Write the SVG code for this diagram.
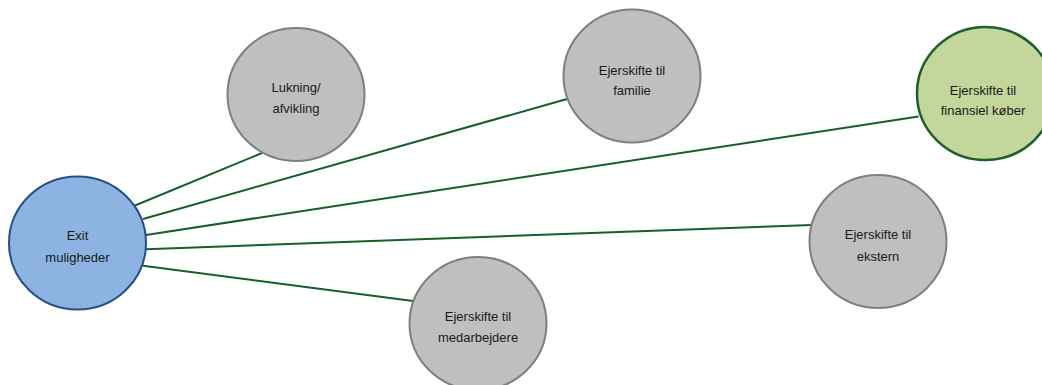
<svg xmlns="http://www.w3.org/2000/svg" width="1042" height="385" viewBox="0 0 1042 385">
<style>
.bg{fill:#ffffff}
.conn{stroke:#155f2b;stroke-width:2;fill:none}
.gray{fill:#bfbfbf;stroke:#7f7f7f;stroke-width:2}
.blue{fill:#8db3e2;stroke:#254f85;stroke-width:2}
.green{fill:#c3d69b;stroke:#1d5e2a;stroke-width:2.5}
text{font-family:"Liberation Sans",Arial,sans-serif;font-size:13px;fill:#1a1a1a;text-anchor:middle}
</style>
<rect class="bg" x="0" y="0" width="1042" height="385"/>
<g id="connectors">
<line class="conn" x1="135" y1="205.5" x2="262" y2="153"/>
<line class="conn" x1="143" y1="219" x2="567" y2="99"/>
<line class="conn" x1="146" y1="235" x2="918.5" y2="116.5"/>
<line class="conn" x1="146" y1="249.3" x2="812" y2="225"/>
<line class="conn" x1="143" y1="265.7" x2="413" y2="301"/>
</g>
<g id="exit">
<ellipse class="blue" cx="77.5" cy="243" rx="68.5" ry="66.5"/>
<text x="77.5" y="240">Exit</text>
<text x="77.5" y="261.5">muligheder</text>
</g>
<g id="lukning">
<ellipse class="gray" cx="296" cy="94.5" rx="68.5" ry="66.5"/>
<text x="296" y="91.7">Lukning/</text>
<text x="296" y="113">afvikling</text>
</g>
<g id="familie">
<ellipse class="gray" cx="632" cy="76" rx="68.5" ry="66.5"/>
<text x="632" y="74.5">Ejerskifte til</text>
<text x="632" y="95">familie</text>
</g>
<g id="finansiel">
<ellipse class="green" cx="985.5" cy="93.5" rx="68.5" ry="66.5"/>
<text x="983" y="95">Ejerskifte til</text>
<text x="983" y="115">finansiel køber</text>
</g>
<g id="ekstern">
<ellipse class="gray" cx="878" cy="241.5" rx="68.5" ry="66.5"/>
<text x="878" y="239.3">Ejerskifte til</text>
<text x="878" y="260.5">ekstern</text>
</g>
<g id="medarbejdere">
<ellipse class="gray" cx="478" cy="323.5" rx="68.5" ry="66.5"/>
<text x="478" y="321">Ejerskifte til</text>
<text x="478" y="341.7">medarbejdere</text>
</g>
</svg>
